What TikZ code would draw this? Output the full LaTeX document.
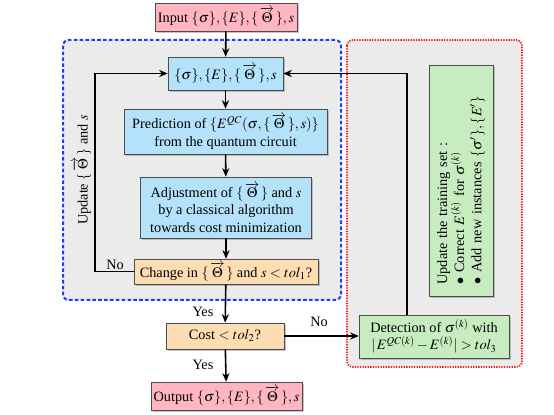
\documentclass[tikz,border=0pt]{standalone}
\usepackage{amsmath, amssymb}
\usepackage{mathptmx}
\usepackage{fontspec}
\setmainfont{Liberation Serif}
\usepackage{tikz}
\usetikzlibrary{shapes, arrows.meta, positioning, calc, shadows}
\usepackage{xcolor}

\definecolor{inpink}{RGB}{255,182,193}
\definecolor{boxblue}{RGB}{180,226,250}
\definecolor{boxorange}{RGB}{255,221,178}
\definecolor{boxgreen}{RGB}{198,236,192}
\definecolor{panelgray}{RGB}{235,235,235}
\definecolor{panelblue}{RGB}{30,60,255}
\definecolor{panelred}{RGB}{240,30,30}

\newcommand{\vTheta}{\{\,\overrightarrow{\Theta}\,\}}

\tikzset{
    box/.style={draw=black!70, inner sep=2pt, align=center,
        drop shadow={shadow xshift=1.2pt, shadow yshift=-1.2pt, opacity=0.45}},
    flow/.style={-{Stealth[length=6pt, width=5pt]}, line width=1.1pt},
}

\begin{document}
\begin{tikzpicture}[x=0.7pt, y=-0.7pt]
        \useasboundingbox (0,0) rectangle (554,415);

        % panels
        \draw[panelblue, line width=1.4pt, dash pattern=on 2.5pt off 1.6pt, rounded corners=4pt, fill=panelgray] (63,40) rectangle (341,300);
        \draw[panelred, line width=1.2pt, dash pattern=on 0.9pt off 0.9pt, rounded corners=4pt, fill=panelgray] (347,40) rectangle (522,367);

        % main loop
        \node[box, fill=inpink, minimum width=95pt, minimum height=19.6pt] at (226,17) (input) {Input $\{\sigma\}, \{E\}, \vTheta, s$};
        \node[box, fill=boxblue, minimum width=80.5pt, minimum height=23pt] at (225.5,73.5) (param) {$\{\sigma\}, \{E\}, \vTheta, s$};
        \node[box, fill=boxblue, minimum width=142pt, minimum height=31.5pt] at (225.5,131.5) (pred) {Prediction of $\{E^{QC}(\sigma, \vTheta, s)\}$\\from the quantum circuit};
        \node[box, fill=boxblue, minimum width=120pt, minimum height=42.7pt] at (226,207.5) (adjust) {Adjustment of $\vTheta$ and $s$\\by a classical algorithm\\towards cost minimization};
        \node[box, fill=boxorange, minimum width=129pt, minimum height=17.5pt] at (226,271.5) (change) {Change in $\vTheta$ and $s < tol_1$?};
        \node[box, fill=boxorange, minimum width=82.6pt, minimum height=18.2pt] at (225,336) (cost) {Cost $< tol_2$?};
        \node[box, fill=inpink, minimum width=104pt, minimum height=19.6pt] at (226.5,396) (output) {Output $\{\sigma\}, \{E\}, \vTheta, s$};

        % training set
        \node[box, fill=boxgreen, minimum width=105pt, minimum height=30pt] at (434,336.5) (detect) {Detection of $\sigma^{(k)}$ with\\$|\,E^{QC(k)} - E^{(k)}| > tol_3$};
        \node[box, fill=boxgreen, rotate=90, align=left, text width=145pt, inner xsep=8.4pt, minimum height=44.8pt] at (461,181) (train) {Update the training set :\\$\bullet$ Correct $E^{(k)}$ for $\sigma^{(k)}$\\$\bullet$ Add new instances $\{\sigma'\}, \{E'\}$};

        \node[rotate=90] at (82,170) (upd) {Update $\vTheta$ and $s$};

        \coordinate (lp) at (95,0);
        \coordinate (rp) at (407,0);

        \draw[flow] (input) -- (param);
        \draw[flow] (param) -- (pred);
        \draw[flow] (pred) -- (adjust);
        \draw[flow] (adjust) -- (change);
        \draw[flow] (change) -- (cost);
        \draw[flow] (cost) -- (output);
        \draw[flow] (change.west) -- (change.west -| lp) |- (param.west);
        \draw[flow] (cost.east) -- (cost.east -| detect.west);
        \draw[flow] (rp |- detect.north) |- (param.east);

        \node at (115,265) (no1) {No};
        \node at (203,312) (yes1) {Yes};
        \node at (203,365) (yes2) {Yes};
        \node at (319,322) (no2) {No};
    \end{tikzpicture}
\end{document}
